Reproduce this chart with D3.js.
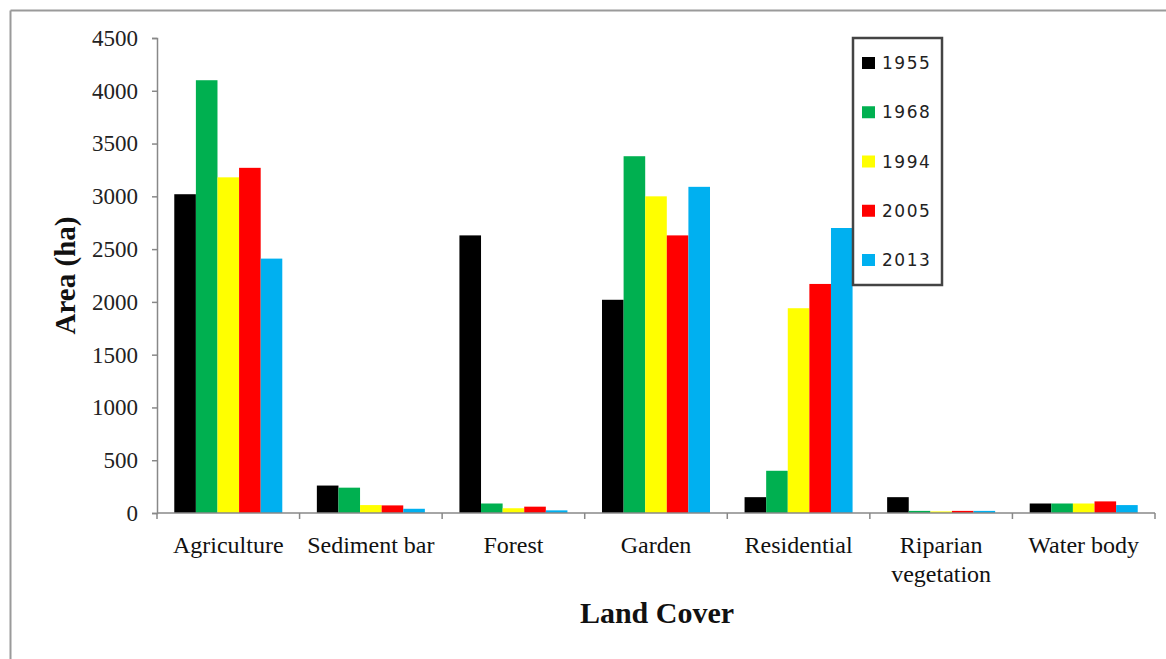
<!DOCTYPE html>
<html>
<head>
<meta charset="utf-8">
<script src="https://cdn.jsdelivr.net/npm/d3@7"></script>
<style>
  html, body { margin: 0; padding: 0; background: #fff; }
  svg { display: block; }
</style>
</head>
<body>
<svg id="chart" width="1166" height="659"></svg>
<script>
// Land cover categories (x axis)
const categories = ["Agriculture", "Sediment bar", "Forest", "Garden", "Residential", "Riparian vegetation", "Water body"];
// Survey years (series)
const years = ["1955", "1968", "1994", "2005", "2013"];
const yearColors = ["#000000", "#00B050", "#FFFF00", "#FF0000", "#00B0F0"];
// Area in hectares per year, in category order
const area1955 = [3020, 260, 2630, 2020, 150, 150, 90];
const area1968 = [4100, 240, 90, 3380, 400, 20, 90];
const area1994 = [3180, 75, 45, 3000, 1940, 15, 90];
const area2005 = [3270, 72, 60, 2630, 2170, 20, 110];
const area2013 = [2410, 40, 25, 3090, 2700, 20, 75];
const yTicks = [0, 500, 1000, 1500, 2000, 2500, 3000, 3500, 4000, 4500];

const series = [area1955, area1968, area1994, area2005, area2013];

const svg = d3.select("#chart");
const W = 1166, H = 659;
const plot = { left: 157, right: 1155, top: 38, bottom: 513 };

// frame lines along the top and left edge
svg.append("line").attr("x1", 10.5).attr("x2", W).attr("y1", 10.5).attr("y2", 10.5)
  .attr("stroke", "#9a9a9a").attr("stroke-width", 2);
svg.append("line").attr("x1", 10.5).attr("x2", 10.5).attr("y1", 10.5).attr("y2", H)
  .attr("stroke", "#9a9a9a").attr("stroke-width", 2);

const x0 = d3.scaleBand().domain(categories).range([plot.left, plot.right]).padding(0);
const x1 = d3.scaleBand().domain(years).range([0, x0.bandwidth()]).paddingInner(0).paddingOuter(0.8);
const y = d3.scaleLinear().domain([0, 4500]).range([plot.bottom, plot.top]);

// bars
const groups = svg.append("g").selectAll("g")
  .data(categories)
  .join("g")
  .attr("transform", d => `translate(${x0(d)},0)`);

groups.selectAll("rect")
  .data((c, ci) => years.map((yr, si) => ({ yr, si, v: series[si][ci] })))
  .join("rect")
  .attr("x", d => x1(d.yr))
  .attr("width", x1.bandwidth())
  .attr("y", d => y(d.v))
  .attr("height", d => y(0) - y(d.v))
  .attr("fill", d => yearColors[d.si]);

// y axis
const yAxis = svg.append("g")
  .attr("transform", `translate(${plot.left},0)`)
  .call(d3.axisLeft(y).tickValues(yTicks).tickSize(5).tickPadding(14).tickFormat(d3.format("d")));
yAxis.select(".domain").attr("stroke", "#888").attr("stroke-width", 1.5);
yAxis.selectAll(".tick line").attr("stroke", "#888").attr("stroke-width", 1.5);
yAxis.selectAll(".tick text")
  .attr("font-family", "'Liberation Serif', 'Times New Roman', serif")
  .attr("font-size", 23).attr("fill", "#222");

// x axis baseline and category separators
svg.append("line").attr("x1", plot.left).attr("x2", plot.right)
  .attr("y1", plot.bottom).attr("y2", plot.bottom)
  .attr("stroke", "#888").attr("stroke-width", 1.5);
const bounds = categories.map(c => x0(c)).concat([plot.right]);
svg.append("g").selectAll("line").data(bounds).join("line")
  .attr("x1", d => d).attr("x2", d => d)
  .attr("y1", plot.bottom).attr("y2", plot.bottom + 6)
  .attr("stroke", "#888").attr("stroke-width", 1.5);

// category labels (wrap two-word long label)
const catLabels = svg.append("g").selectAll("text").data(categories).join("text")
  .attr("x", d => x0(d) + x0.bandwidth() / 2)
  .attr("y", 553)
  .attr("text-anchor", "middle")
  .attr("font-family", "'Liberation Serif', 'Times New Roman', serif")
  .attr("font-size", 24)
  .attr("fill", "#111");
catLabels.each(function (d) {
  const t = d3.select(this);
  if (d === "Riparian vegetation") {
    t.append("tspan").attr("x", x0(d) + x0.bandwidth() / 2).attr("dy", 0).text("Riparian");
    t.append("tspan").attr("x", x0(d) + x0.bandwidth() / 2).attr("dy", 29).text("vegetation");
  } else {
    t.text(d);
  }
});

// axis titles
svg.append("text")
  .attr("x", (plot.left + plot.right) / 2 + 1)
  .attr("y", 623)
  .attr("text-anchor", "middle")
  .attr("font-family", "'Liberation Serif', 'Times New Roman', serif")
  .attr("font-weight", "bold")
  .attr("font-size", 30)
  .attr("fill", "#111")
  .text("Land Cover");

svg.append("text")
  .attr("transform", `translate(75,${(y(0) + y(4500)) / 2}) rotate(-90)`)
  .attr("text-anchor", "middle")
  .attr("font-family", "'Liberation Serif', 'Times New Roman', serif")
  .attr("font-weight", "bold")
  .attr("font-size", 29)
  .attr("fill", "#111")
  .text("Area (ha)");

// legend
const legend = svg.append("g");
legend.append("rect")
  .attr("x", 853).attr("y", 38).attr("width", 89).attr("height", 247)
  .attr("fill", "#fff").attr("stroke", "#444").attr("stroke-width", 2.5);
const legendY = d3.scalePoint().domain(years).range([63, 260]);
const items = legend.selectAll("g.item").data(years).join("g").attr("class", "item");
items.append("rect")
  .attr("x", 862).attr("y", d => legendY(d) - 6)
  .attr("width", 13).attr("height", 12)
  .attr("fill", (d, i) => yearColors[i]);
items.append("text")
  .attr("x", 882).attr("y", d => legendY(d))
  .attr("dominant-baseline", "central")
  .attr("font-family", "'DejaVu Sans', Verdana, sans-serif")
  .attr("font-size", 17)
  .attr("letter-spacing", 1.5)
  .attr("fill", "#222")
  .text(d => d);
</script>
</body>
</html>
